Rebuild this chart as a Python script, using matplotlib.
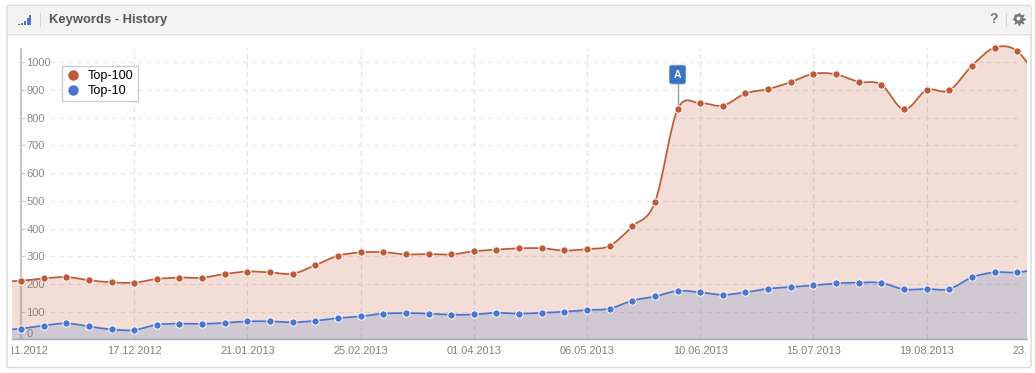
import numpy as np
import matplotlib
matplotlib.use('Agg')
import matplotlib.pyplot as plt
from matplotlib.lines import Line2D
from matplotlib.patches import Circle, FancyBboxPatch, PathPatch, Rectangle
from matplotlib.path import Path
from matplotlib.transforms import Bbox

plt.rcParams['font.family'] = ['Liberation Sans', 'DejaVu Sans']

# weekly data, week 0 is 12.11.2012
weeks = list(range(-1, 46))
top100 = [208, 212, 220, 225, 214, 206, 205, 218, 223, 223, 236, 245, 242, 237, 268, 302,
          314, 315, 307, 308, 307, 318, 324, 329, 329, 321, 326, 338, 408, 495, 830,
          853, 844, 888, 904, 929, 959, 957, 930, 920, 830, 900, 899, 988, 1053, 1041, 930]
top10 = [32, 39, 50, 58, 47, 36, 34, 53, 57, 56, 60, 65, 65, 62, 67, 77,
         83, 93, 95, 93, 89, 90, 96, 93, 96, 100, 106, 111, 140, 155, 175,
         170, 161, 170, 183, 189, 195, 202, 205, 204, 181, 182, 182, 224, 242, 242, 255]

y_ticks = [0, 100, 200, 300, 400, 500, 600, 700, 800, 900, 1000]
x_ticks = [0, 5, 10, 15, 20, 25, 30, 35, 40]
x_labels = ['12.11.2012', '17.12.2012', '21.01.2013', '25.02.2013', '01.04.2013',
            '06.05.2013', '10.06.2013', '15.07.2013', '19.08.2013']
last_tick = 45
last_label = '23.09.2013'
flag_week = 29

RED = '#bf5a36'
BLUE = '#4a76cf'
W, H = 1035, 373


def spline_path(xs, ys):
    # bezier through every point, same kind of smoothing as the web chart
    verts = [(xs[0], ys[0])]
    codes = [Path.MOVETO]
    n = len(xs)
    for i in range(n - 1):
        x0, y0 = (xs[i - 1], ys[i - 1]) if i > 0 else (xs[i], ys[i])
        x1, y1 = xs[i], ys[i]
        x2, y2 = xs[i + 1], ys[i + 1]
        x3, y3 = (xs[i + 2], ys[i + 2]) if i < n - 2 else (x2, y2)
        verts += [(x1 + (x2 - x0) / 6.0, y1 + (y2 - y0) / 6.0),
                  (x2 - (x3 - x1) / 6.0, y2 - (y3 - y1) / 6.0),
                  (x2, y2)]
        codes += [Path.CURVE4] * 3
    return verts, codes


def draw_series(ax, xs, ys, color):
    verts, codes = spline_path(xs, ys)
    area = Path(verts + [(xs[-1], 0), (xs[0], 0), (xs[0], 0)],
                codes + [Path.LINETO, Path.LINETO, Path.CLOSEPOLY])
    ax.add_patch(PathPatch(area, fc=color, ec='none', alpha=0.2, zorder=3))
    ax.add_patch(PathPatch(Path(verts, codes), fc='none', ec=color, lw=1.25, zorder=4))
    ax.plot(xs[1:-1], ys[1:-1], ls='none', marker='o', ms=5.3, mfc=color, mec='white',
            mew=0.7, zorder=5)


fig = plt.figure(figsize=(W / 100, H / 100), dpi=100)

# panel around the chart, pixel coordinates
bg = fig.add_axes([0, 0, 1, 1])
bg.set_xlim(0, W)
bg.set_ylim(H, 0)
bg.axis('off')
bg.add_patch(FancyBboxPatch((7, 5.5), 1024, 362, boxstyle='round,pad=0,rounding_size=2',
                            fc='white', ec='#d8d8d8', lw=1))
bg.add_patch(Rectangle((7.5, 6), 1023, 27, fc='#f3f3f3', ec='none'))
bg.plot([7, 1031], [33.5, 33.5], color='#dedede', lw=1)
bg.plot([39.5, 39.5], [13, 26], color='#d5d5d5', lw=0.8)
bg.plot([1005.5, 1005.5], [13, 26], color='#d5d5d5', lw=0.8)
for bar_x, bar_h in zip([18, 21, 24, 27, 29], [1, 2, 4, 7, 10]):
    bg.add_patch(Rectangle((bar_x, 24.5 - bar_h), 2, bar_h, fc='#4a76cf', ec='none'))
bg.text(49, 19.5, 'Keywords - History', fontsize=9.4, fontweight='bold', color='#555555',
        ha='left', va='center')
bg.text(993.5, 19, '?', fontsize=10, fontweight='bold', color='#777777', ha='center', va='center')
# gear icon
bg.plot([1018.5], [18.5], marker=(8, 1, 0), ms=9.5, mfc='#777777', mec='#777777', mew=0.6, zorder=3)
bg.add_patch(Circle((1018.5, 18.5), 4.5, fc='#777777', ec='none', zorder=4))
bg.add_patch(Circle((1018.5, 18.5), 2.0, fc='#f3f3f3', ec='none', zorder=5))

# plot area: x 12..1027, y 40..339.4 px
px_per_week = 22.64
px_per_unit = 0.277
ax = fig.add_axes([12 / W, 1 - 339.4 / H, 1015 / W, 299.4 / H])
ax.patch.set_alpha(0)
for side in ['top', 'right', 'left']:
    ax.spines[side].set_visible(False)
ax.spines['bottom'].set_color('#a9a9a9')
ax.spines['bottom'].set_linewidth(1)

grid_top = (339.4 - 48) / px_per_unit
grid_left = (50 - 21) / px_per_week
grid_right = (1017 - 21) / px_per_week
ax.hlines(y_ticks[1:], grid_left, grid_right, color='#e8e8e8', lw=0.9, linestyles=(0, (4, 3)), zorder=1)
ax.hlines(y_ticks[1:], 0, 4 / px_per_week, color='#cccccc', lw=0.9, zorder=1)
ax.vlines(x_ticks[1:], 0, grid_top, color='#e2e2e2', lw=0.9, linestyles=(0, (4, 3)), zorder=1)
ax.vlines([0], 0, grid_top, color='#c8c8c8', lw=1.6, zorder=1)

draw_series(ax, weeks, top100, RED)
draw_series(ax, weeks, top10, BLUE)

ax.set_yticks(y_ticks)
ax.set_yticklabels([str(v) for v in y_ticks])
ax.tick_params(axis='y', length=0, pad=-10.4, labelsize=8, labelcolor='#8a8a8a')
for lab in ax.get_yticklabels():
    lab.set_horizontalalignment('left')
    lab.set_zorder(6)
ax.get_yticklabels()[0].set_verticalalignment('bottom')

ax.set_xticks(x_ticks)
ax.set_xticklabels(x_labels)
ax.tick_params(axis='x', length=0, pad=5, labelsize=7.9, labelcolor='#808080')
label_box = Bbox.from_extents(12, 0, 1027, H)
for lab in ax.get_xticklabels():
    lab.set_clip_on(True)
    lab.set_clip_box(label_box)

# set_xticks widens the view, so the limits come after it
ax.set_xlim((12 - 21) / px_per_week, (1027 - 21) / px_per_week)
ax.set_ylim(0, 299.4 / px_per_unit)

# the last tick is past the right edge, only the start of its label shows
end_text = ax.text(last_tick, -11.5 / 299.4, last_label, fontsize=7.9, color='#808080', ha='center',
                   va='center', transform=ax.get_xaxis_transform(), clip_on=True)
end_text.set_clip_box(label_box)

# flag on the jump in June
flag_y = top100[weeks.index(flag_week)]
ax.vlines([flag_week], flag_y, flag_y + 95, color='#999999', lw=1, zorder=3.5)
ax.text(flag_week, flag_y + 95 + 31, 'A', fontsize=7.5, fontweight='bold', color='white',
        ha='center', va='center', zorder=8,
        bbox=dict(boxstyle='round,pad=0.42,rounding_size=0.25', fc='#3b73c4', ec='#6f9ad8', lw=0.6))

handles = [Line2D([], [], ls='none', marker='o', ms=6.5, mfc=RED, mec=RED, label='Top-100'),
           Line2D([], [], ls='none', marker='o', ms=6.5, mfc=BLUE, mec=BLUE, label='Top-10')]
leg = ax.legend(handles=handles, loc='upper left',
                bbox_to_anchor=((62 - 12) / 1015, (339.4 - 66) / 299.4), borderaxespad=0,
                fontsize=9.1, frameon=True, fancybox=False, framealpha=1, edgecolor='#cccccc',
                labelcolor='black', handletextpad=0.6, handlelength=1.1, labelspacing=0.2,
                borderpad=0.35)
leg.get_frame().set_linewidth(1)
leg.set_zorder(7)

fig.savefig('out.png', dpi=100)
